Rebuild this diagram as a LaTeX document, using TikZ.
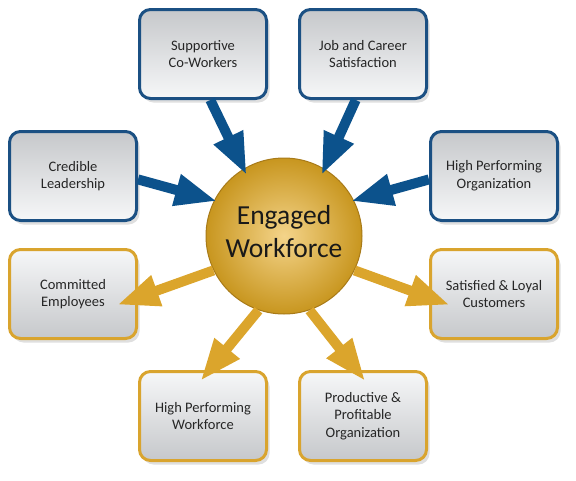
\documentclass[tikz,border=0pt]{standalone}
\usepackage{fontspec}
\setmainfont{Carlito}
\usetikzlibrary{arrows.meta,shadows}
\definecolor{navyline}{HTML}{1B5083}
\definecolor{navyarrow}{HTML}{0C528C}
\definecolor{goldline}{HTML}{D9A42E}
\definecolor{goldarrow}{HTML}{DBA52C}
\definecolor{boxgray}{HTML}{C6C8CB}
\definecolor{boxwhite}{HTML}{F6F7F8}
\definecolor{goldlight}{HTML}{F4D48A}
\definecolor{golddark}{HTML}{C8961F}
\definecolor{goldedge}{HTML}{A87A18}
\tikzset{
  card/.style={rectangle, rounded corners=11pt, line width=3pt, minimum width=127pt, minimum height=89pt, align=center, text=black!85, font=\fontsize{14.5}{17.7}\selectfont, drop shadow={shadow xshift=3pt, shadow yshift=-4pt, opacity=0.25}},
  driver/.style={card, draw=navyline, top color=boxgray, bottom color=boxwhite},
  result/.style={card, draw=goldline, top color=boxwhite, bottom color=boxgray},
  hub/.style={circle, minimum size=156pt, draw=goldedge, line width=1pt, inner color=goldlight, outer color=golddark, align=center, text depth=10pt, text=black!90, font=\fontsize{27.5}{33}\selectfont},
  inarrow/.style={navyarrow, line width=10pt, -{Triangle[length=42pt,width=30pt]}},
  outarrow/.style={goldarrow, line width=10pt, -{Triangle[length=42pt,width=30pt]}}
}
\begin{document}
\begin{tikzpicture}[x=1pt,y=-1pt]
\path[use as bounding box] (0,0) rectangle (576,480);

\node[driver] (coworkers) at (203,54) {Supportive\\Co-Workers};
\node[driver] (career) at (363,54) {Job and Career\\Satisfaction};
\node[driver] (leadership) at (73,176) {Credible\\Leadership};
\node[driver] (perforg) at (494,176) {High Performing\\Organization};
\node[result] (committed) at (73,294) {Committed\\Employees};
\node[result] (customers) at (494,294) {Satisfied \& Loyal\\Customers};
\node[result] (workforce) at (203,416) {High Performing\\Workforce};
\node[result] (productive) at (363,416) {Productive \&\\Profitable\\Organization};

\node[hub] (engaged) at (284,236) {Engaged\\Workforce};

\draw[inarrow, shorten >=-7pt] (coworkers.-81) -- (engaged.121);
\draw[inarrow, shorten >=-7pt] (career.-99) -- (engaged.59);
\draw[inarrow, shorten >=-3pt] (leadership.-3) -- (engaged.153);
\draw[inarrow, shorten >=-3pt] (perforg.183) -- (engaged.27);

\draw[outarrow, shorten >=-22pt] (engaged.206) -- (committed.-3);
\draw[outarrow, shorten >=-22pt] (engaged.-26) -- (customers.183);
\draw[outarrow, shorten >=-14pt] (engaged.-109) -- (workforce.82);
\draw[outarrow, shorten >=-14pt] (engaged.-71) -- (productive.98);
\end{tikzpicture}
\end{document}
